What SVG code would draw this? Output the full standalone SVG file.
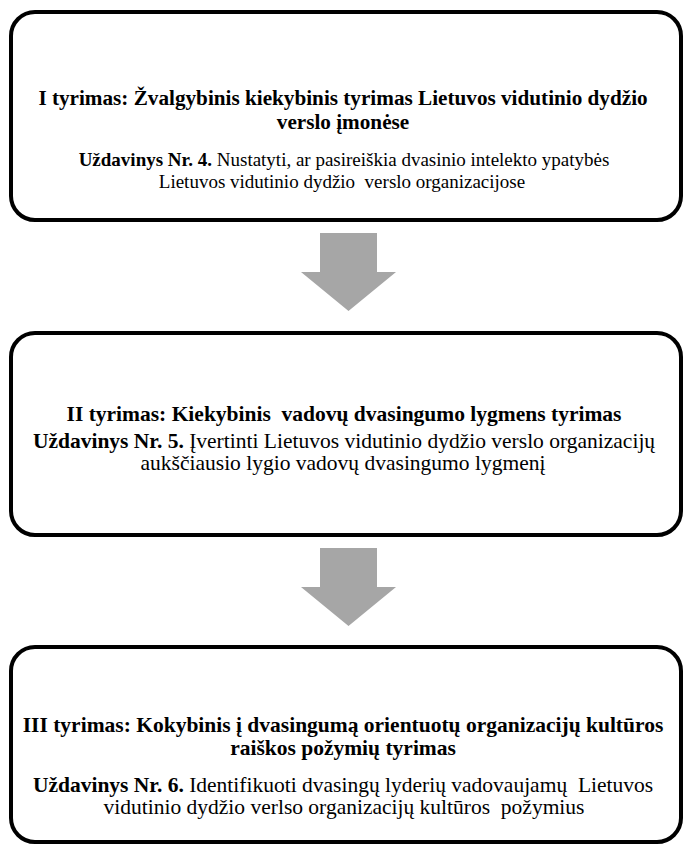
<svg xmlns="http://www.w3.org/2000/svg" width="684" height="846" viewBox="0 0 684 846">
  <style>
    .box { fill: #ffffff; stroke: #000000; stroke-width: 4; }
    .arrow { fill: #a6a6a6; stroke: none; }
    text { font-family: "Liberation Serif", "Times New Roman", serif; font-size: 21.5px; fill: #000000; text-anchor: middle; white-space: pre; }
    .b { font-weight: bold; }
    .t1 { font-size: 21.2px; }
    .s1 { font-size: 19px; }
  </style>
  <rect width="684" height="846" fill="#ffffff"/>

  <!-- connectors: block arrows between stages -->
  <g id="connectors">
    <polygon class="arrow" points="320,233 377,233 377,272 396,272 348.5,311 301,272 320,272"/>
    <polygon class="arrow" points="320,548 377,548 377,587 396,587 348.5,626 301,587 320,587"/>
  </g>

  <g id="stage1">
    <rect class="box" x="11" y="12" width="670" height="208" rx="24" ry="24"/>
    <text class="b t1" x="343" y="105">I tyrimas: Žvalgybinis kiekybinis tyrimas Lietuvos vidutinio dydžio</text>
    <text class="b t1" x="343" y="129">verslo įmonėse</text>
    <text class="s1" x="344" y="166"><tspan class="b">Uždavinys Nr. 4.</tspan> Nustatyti, ar pasireiškia dvasinio intelekto ypatybės</text>
    <text class="s1" x="342" y="188">Lietuvos vidutinio dydžio  verslo organizacijose</text>
  </g>

  <g id="stage2">
    <rect class="box" x="11" y="333" width="670" height="202" rx="24" ry="24"/>
    <text class="b" x="344" y="421" font-size="22.4">II tyrimas: Kiekybinis  vadovų dvasingumo lygmens tyrimas</text>
    <text x="344" y="448"><tspan class="b">Uždavinys Nr. 5.</tspan> Įvertinti Lietuvos vidutinio dydžio verslo organizacijų</text>
    <text x="343" y="470" font-size="22">aukščiausio lygio vadovų dvasingumo lygmenį</text>
  </g>

  <g id="stage3">
    <rect class="box" x="11" y="647" width="670" height="195" rx="24" ry="24"/>
    <text class="b" x="343" y="732">III tyrimas: Kokybinis į dvasingumą orientuotų organizacijų kultūros</text>
    <text class="b" x="343" y="755">raiškos požymių tyrimas</text>
    <text x="343" y="792"><tspan class="b">Uždavinys Nr. 6.</tspan> Identifikuoti dvasingų lyderių vadovaujamų  Lietuvos</text>
    <text x="344" y="814" font-size="21.9">vidutinio dydžio verlso organizacijų kultūros  požymius</text>
  </g>
</svg>
